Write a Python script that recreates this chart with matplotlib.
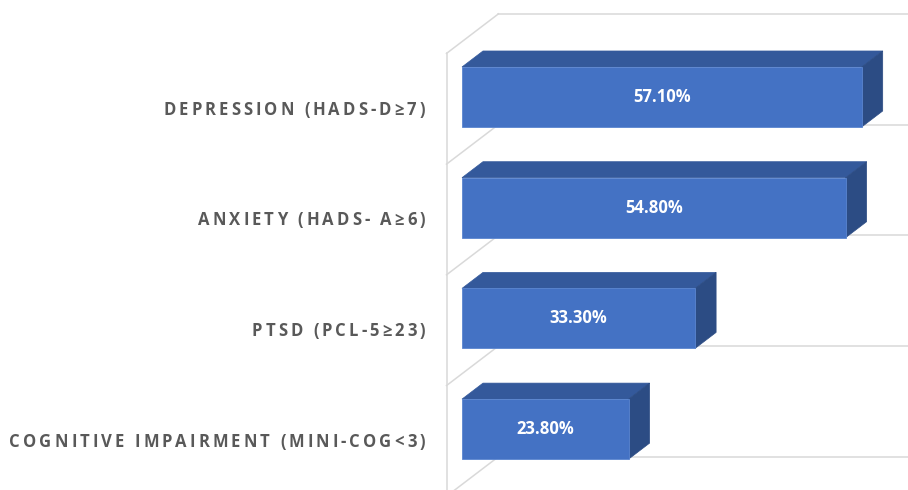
import matplotlib.pyplot as plt
from matplotlib.patches import Polygon, Rectangle
from matplotlib.font_manager import FontProperties
from matplotlib.transforms import offset_copy

categories = ["DEPRESSION (HADS-D≥7)", "ANXIETY (HADS- A≥6)", "PTSD (PCL-5≥23)",
              "COGNITIVE IMPAIRMENT (MINI-COG<3)"]
values = [57.1, 54.8, 33.3, 23.8]
axis_max = 60

front_col = '#4472C4'
top_col = '#34599B'
side_col = '#2C4C84'
grid_col = '#D9D9D9'
label_col = '#595959'

fig = plt.figure(figsize=(9.08, 4.9), dpi=100)
ax = fig.add_axes([0, 0, 1, 1])
ax.set_xlim(-66, 63.714)
ax.set_ylim(3.550, -0.876)
ax.axis('off')

h = 0.542              # bar thickness (category units)
dx, dy = 3.0, -0.1445  # bar depth vector
z0, z1 = -0.738, 1.738  # wall front / back planes in bar-depth units

n = len(categories)
# back wall horizontal gridlines
for k in range(n + 1):
    yb = k - 0.5 + z1 * dy
    ax.plot([z1 * dx, axis_max + z1 * dx], [yb, yb], color=grid_col, lw=1.1, zorder=1)
    # side diagonals at category boundaries
    ax.plot([z0 * dx, z1 * dx], [k - 0.5 + z0 * dy, yb], color=grid_col, lw=1.1, zorder=1)
# left front vertical
ax.plot([z0 * dx, z0 * dx], [-0.5 + z0 * dy, n], color=grid_col, lw=1.1, zorder=1)

for i, v in enumerate(values):
    yt, yb = i - h / 2, i + h / 2
    ax.add_patch(Polygon([(0, yt), (v, yt), (v + dx, yt + dy), (dx, yt + dy)],
                         closed=True, fc=top_col, ec=top_col, lw=0.5, zorder=3))
    ax.add_patch(Polygon([(v, yt), (v, yb), (v + dx, yb + dy), (v + dx, yt + dy)],
                         closed=True, fc=side_col, ec=side_col, lw=0.5, zorder=3))
    ax.add_patch(Rectangle((0, yt), v, h, fc=front_col, ec='#5A85D0', lw=0.6, zorder=4))
    ax.text(v / 2, i, f'{v:.2f}%', ha='center', va='center', color='white',
            fontsize=12, fontweight='bold', family=['Open Sans', 'DejaVu Sans'], zorder=5)

# letter-spaced category labels, right aligned
fp = FontProperties(family=['Open Sans', 'DejaVu Sans'], weight='bold', size=12)
renderer = fig.canvas.get_renderer()
spacing = 3.05
right_px = -37
for i, lab in enumerate(categories):
    widths = [renderer.get_text_width_height_descent(ch, fp, ismath=False)[0] for ch in lab]
    total = sum(widths) + spacing * (len(lab) - 1)
    x = right_px - total
    yl = i + z0 * dy
    for ch, w in zip(lab, widths):
        tr = offset_copy(ax.transData, fig=fig, x=x, y=-6, units='dots')
        ax.text(0, yl, ch, transform=tr, ha='left', va='baseline',
                fontproperties=fp, color=label_col)
        x += w + spacing

fig.savefig('out.png', dpi=100)
